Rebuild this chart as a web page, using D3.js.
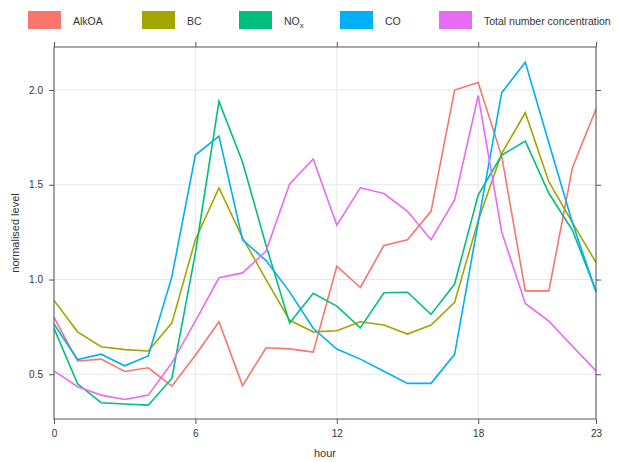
<!DOCTYPE html>
<html>
<head>
<meta charset="utf-8">
<script src="https://cdn.jsdelivr.net/npm/d3@7"></script>
<style>
body { margin: 0; background: #fff; }
text { font-family: "Liberation Sans", Arial, sans-serif; fill: #333; }
</style>
</head>
<body>
<div id="chart"></div>
<script>
// hourly normalised levels
var hours = d3.range(0, 24);
var seriesNames = ["AlkOA", "BC", "NOx", "CO", "Total number concentration"];
var seriesColors = ["#F8766D", "#A3A500", "#00BF7D", "#00B0F6", "#E76BF3"];
var xTicks = [0, 6, 12, 18, 23];
var yTicks = [0.5, 1.0, 1.5, 2.0];

var alkoa = [0.80, 0.57, 0.58, 0.515, 0.534, 0.437, 0.60, 0.777, 0.44, 0.64, 0.634, 0.617,
             1.07, 0.958, 1.18, 1.21, 1.36, 2.00, 2.04, 1.65, 0.94, 0.94, 1.59, 1.90];
var bc = [0.89, 0.724, 0.645, 0.63, 0.623, 0.77, 1.21, 1.484, 1.22, 1.0, 0.785, 0.724,
          0.73, 0.777, 0.76, 0.712, 0.76, 0.88, 1.31, 1.666, 1.88, 1.516, 1.30, 1.09];
var nox = [0.742, 0.45, 0.35, 0.343, 0.337, 0.478, 1.14, 1.94, 1.62, 1.18, 0.77, 0.927,
           0.86, 0.745, 0.93, 0.933, 0.816, 0.976, 1.446, 1.657, 1.73, 1.455, 1.26, 0.94];
var co = [0.765, 0.578, 0.606, 0.545, 0.597, 1.014, 1.657, 1.757, 1.21, 1.10, 0.935, 0.743,
          0.633, 0.58, 0.516, 0.452, 0.452, 0.605, 1.30, 1.986, 2.146, 1.72, 1.30, 0.935];
var tnc = [0.518, 0.434, 0.39, 0.367, 0.39, 0.56, 0.78, 1.009, 1.035, 1.15, 1.504, 1.636,
           1.287, 1.484, 1.454, 1.36, 1.21, 1.42, 1.97, 1.25, 0.874, 0.78, 0.648, 0.518];
var seriesValues = [alkoa, bc, nox, co, tnc];

var width = 619, height = 462;
var plotL = 54, plotR = 596, plotT = 47, plotB = 419;

var svg = d3.select("#chart").append("svg")
    .attr("width", width)
    .attr("height", height);

var x = d3.scaleLinear().domain([0, 23]).range([plotL, plotR]);
var y = d3.scaleLinear().domain([0.264, 2.227]).range([plotB, plotT]);

// grid
svg.append("g").selectAll("line.vg")
    .data(xTicks).enter().append("line")
    .attr("x1", function(d){ return x(d); }).attr("x2", function(d){ return x(d); })
    .attr("y1", plotT).attr("y2", plotB)
    .attr("stroke", "#e8e8e8").attr("stroke-width", 1);
svg.append("g").selectAll("line.hg")
    .data(yTicks).enter().append("line")
    .attr("y1", function(d){ return y(d); }).attr("y2", function(d){ return y(d); })
    .attr("x1", plotL).attr("x2", plotR)
    .attr("stroke", "#e8e8e8").attr("stroke-width", 1);

// lines
var line = d3.line()
    .x(function(d, i){ return x(hours[i]); })
    .y(function(d){ return y(d); });
svg.append("g").selectAll("path.series")
    .data(seriesValues).enter().append("path")
    .attr("class", "series")
    .attr("d", line)
    .attr("fill", "none")
    .attr("stroke", function(d, i){ return seriesColors[i]; })
    .attr("stroke-width", 1.6)
    .attr("stroke-linejoin", "miter");

// axes on all four sides, lattice style
function styleAxis(g){
    g.select(".domain").remove();
    g.selectAll(".tick line").attr("stroke", "#555");
    g.selectAll(".tick text").attr("font-size", "10px").attr("fill", "#444")
        .attr("font-family", "Liberation Sans, Arial, sans-serif");
}
svg.append("g").attr("transform", "translate(0," + plotB + ")")
    .call(d3.axisBottom(x).tickValues(xTicks).tickFormat(d3.format("d")).tickSize(5).tickPadding(6))
    .call(styleAxis);
svg.append("g").attr("transform", "translate(0," + plotT + ")")
    .call(d3.axisTop(x).tickValues(xTicks).tickFormat("").tickSize(5))
    .call(styleAxis);
svg.append("g").attr("transform", "translate(" + plotL + ",0)")
    .call(d3.axisLeft(y).tickValues(yTicks).tickFormat(d3.format(".1f")).tickSize(5).tickPadding(6))
    .call(styleAxis);
svg.append("g").attr("transform", "translate(" + plotR + ",0)")
    .call(d3.axisRight(y).tickValues(yTicks).tickFormat("").tickSize(5))
    .call(styleAxis);

svg.append("rect")
    .attr("x", plotL).attr("y", plotT)
    .attr("width", plotR - plotL).attr("height", plotB - plotT)
    .attr("fill", "none").attr("stroke", "#555").attr("stroke-width", 1);

// axis titles
svg.append("text")
    .attr("x", (plotL + plotR) / 2).attr("y", 457)
    .attr("text-anchor", "middle").attr("font-size", "11px")
    .text("hour");
svg.append("text")
    .attr("transform", "translate(19," + ((plotT + plotB) / 2) + ") rotate(-90)")
    .attr("text-anchor", "middle").attr("font-size", "11px")
    .text("normalised level");

// legend
var legendX = [28, 142, 239, 340, 439];
var legend = svg.append("g").selectAll("g.key")
    .data(seriesNames).enter().append("g")
    .attr("transform", function(d, i){ return "translate(" + legendX[i] + ",11)"; });
legend.append("rect")
    .attr("width", 33).attr("height", 18)
    .attr("fill", function(d, i){ return seriesColors[i]; });
legend.append("text")
    .attr("x", 45).attr("y", 13.5)
    .attr("font-size", "10.5px")
    .each(function(d){
        var t = d3.select(this);
        if (d === "NOx") {
            t.append("tspan").text("NO");
            t.append("tspan").attr("font-size", "8px").attr("dy", 3).text("x");
        } else {
            t.text(d);
        }
    });
</script>
</body>
</html>
